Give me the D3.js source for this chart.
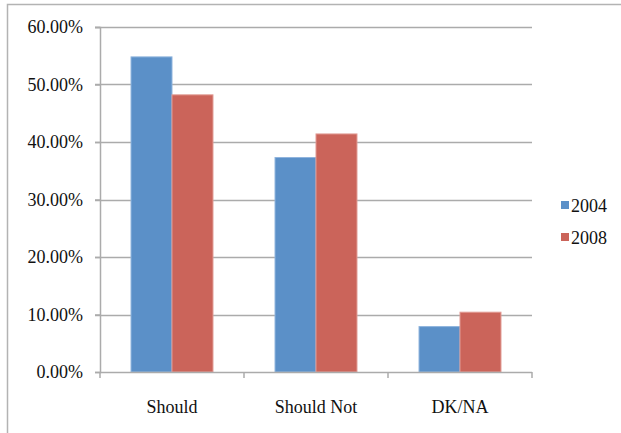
<!DOCTYPE html>
<html><head><meta charset="utf-8">
<script src="https://cdn.jsdelivr.net/npm/d3@7"></script>
<style>html,body{margin:0;padding:0;background:#fff;}svg{display:block;}</style>
</head><body>
<svg id="chart" width="621" height="433"></svg>
<script>
const categories = ["Should", "Should Not", "DK/NA"];
const seriesNames = ["2004", "2008"];
const values2004 = [0.548, 0.373, 0.079];
const values2008 = [0.482, 0.414, 0.104];
const yTicks = [0, 0.1, 0.2, 0.3, 0.4, 0.5, 0.6];
const colors = ["#5B90C8", "#CB645A"];
const strokes = ["#8FB4DD", "#E19A93"];

(function () {
const svg = d3.select("#chart");
const font = "'Liberation Serif', 'Times New Roman', serif";

// outer frame
svg.append("path").attr("d", "M7.5,433 V4.5 H621")
  .attr("fill", "none").attr("stroke", "#B3B3B3").attr("stroke-width", 1.5);

const pLeft = 100, pRight = 532, pTop = 27, pBottom = 372;
const x = d3.scaleBand().domain(categories).range([pLeft, pRight]);
const y = d3.scaleLinear().domain([0, 0.6]).range([pBottom, pTop]);
const inner = d3.scaleBand().domain(seriesNames)
  .range([0, x.bandwidth()]).paddingOuter(0.757).paddingInner(0);

// gridlines
svg.append("g").selectAll("line").data(yTicks.filter(d => d > 0)).join("line")
  .attr("x1", pLeft - 5).attr("x2", pRight)
  .attr("y1", d => Math.round(y(d)) + 0.5).attr("y2", d => Math.round(y(d)) + 0.5)
  .attr("stroke", "#ABABAB").attr("stroke-width", 1.5);

// bars
const series = [values2004, values2008];
series.forEach((vals, si) => {
  svg.append("g").selectAll("rect").data(categories).join("rect")
    .attr("x", (c) => x(c) + inner(seriesNames[si]))
    .attr("width", inner.bandwidth())
    .attr("y", (c, i) => y(vals[i]))
    .attr("height", (c, i) => y(0) - y(vals[i]))
    .attr("fill", colors[si])
    .attr("stroke", strokes[si]).attr("stroke-width", 1);
});

// y axis
const yAxis = d3.axisLeft(y).tickValues(yTicks).tickFormat(d3.format(".2%")).tickSize(5).tickPadding(12);
const gy = svg.append("g").attr("transform", `translate(${pLeft},0)`).call(yAxis);
gy.select(".domain").attr("stroke", "#ABABAB").attr("stroke-width", 1.5);
gy.selectAll(".tick line").attr("stroke", "#ABABAB").attr("stroke-width", 1.5);
gy.selectAll("text").attr("font-family", font).attr("font-size", 18).attr("fill", "#111");

// x axis
const gx = svg.append("g").attr("transform", `translate(0,${pBottom})`)
  .call(d3.axisBottom(x).tickSize(0).tickPadding(28));
gx.select(".domain").attr("d", `M${pLeft},0.5H${pRight}`).attr("stroke", "#ABABAB").attr("stroke-width", 1.5);
gx.selectAll("text").attr("font-family", font).attr("font-size", 18).attr("fill", "#111");
// category boundary ticks
const bounds = categories.map(c => x(c)).concat([pRight]);
gx.append("g").selectAll("line").data(bounds).join("line")
  .attr("x1", d => d).attr("x2", d => d).attr("y1", 0).attr("y2", 6)
  .attr("stroke", "#ABABAB").attr("stroke-width", 1.5);

// legend
const lg = svg.append("g").attr("transform", "translate(561,201)");
seriesNames.forEach((s, i) => {
  const g = lg.append("g").attr("transform", `translate(0,${i * 32})`);
  g.append("rect").attr("width", 8).attr("height", 8).attr("fill", colors[i]);
  g.append("text").attr("x", 10).attr("y", 11).text(s)
    .attr("font-family", font).attr("font-size", 18).attr("fill", "#111");
});
})();
</script>
</body></html>
